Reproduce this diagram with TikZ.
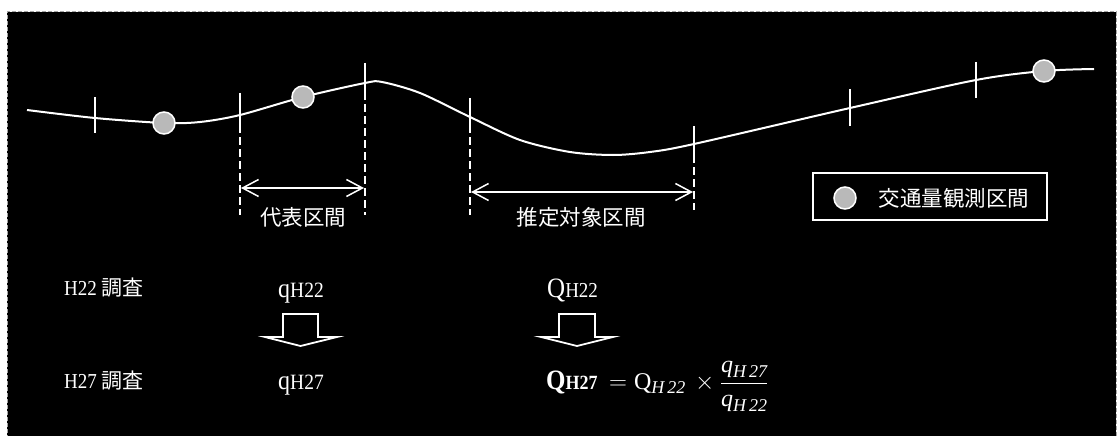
\documentclass[tikz,border=0pt]{standalone}
\usepackage{fontspec}
\setmainfont{Liberation Serif}
\newfontfamily\jp{Noto Sans CJK JP}
\usetikzlibrary{arrows.meta}
\newcommand{\mysub}[1]{\raisebox{-0.45ex}{\fontsize{18}{18}\selectfont\itshape #1}}
\newcommand{\tallx}[1]{\scalebox{1}[1.12]{#1}}
\begin{document}
\begin{tikzpicture}[x=1pt,y=-1pt,
  road/.style={white, line width=2pt},
  tickln/.style={white, line width=1.6pt},
  dashln/.style={white, line width=1.8pt, dash pattern=on 8pt off 4pt},
  obs/.style={circle, fill=gray!55, draw=white, line width=1.5pt, minimum size=22pt, inner sep=0pt},
  dim/.style={white, line width=1.5pt, {Straight Barb[length=16pt,width=17pt,line width=1.5pt]}-{Straight Barb[length=16pt,width=17pt,line width=1.5pt]}},
  blockarr/.style={white, line width=1.8pt, fill=black, line join=miter},
  jptxt/.style={text=white, font=\jp\fontsize{21.5}{21.5}\selectfont, inner sep=0pt},
  lat/.style={text=white, inner sep=0pt}
]
\useasboundingbox (0,0) rectangle (1117,436);
\fill[white] (0,0) rectangle (1117,436);
\fill[black] (7,12) rectangle (1116,445);
\draw[gray!70, line width=1pt, dash pattern=on 4pt off 2pt] (7,445) -- (7,12) -- (1116,12) -- (1116,445);

% road curve
\draw[road] plot[smooth, tension=0.5] coordinates {(27,110) (95,118) (164,123) (200,122) (240,115) (303,97) (365,83) (382,82) (420,93) (470,117) (520,140) (570,152) (613,155) (650,152) (694,144) (850,108) (976,80) (1044,71) (1094,69)};

% ticks
\draw[tickln] (95,97) -- (95,133);
\draw[tickln] (240,93) -- (240,133);
\draw[tickln] (365,63) -- (365,100);
\draw[tickln] (470,98) -- (470,133);
\draw[tickln] (694,126) -- (694,163);
\draw[tickln] (850,89) -- (850,126);
\draw[tickln] (976,62) -- (976,98);

% dashed extensions
\draw[dashln] (240,137) -- (240,215);
\draw[dashln] (365,104) -- (365,215);
\draw[dashln] (470,137) -- (470,215);
\draw[dashln] (694,167) -- (694,210);

% observation points
\node[obs] (c1) at (164,123) {};
\node[obs] (c2) at (303,97) {};
\node[obs] (c3) at (1044,71) {};

% dimension arrows
\coordinate (a1) at (241,188);
\coordinate (a2) at (364,188);
\coordinate (b1) at (471,192);
\coordinate (b2) at (693,192);
\draw[dim] (a1) -- (a2);
\draw[dim] (b1) -- (b2);
\node[jptxt] (t1) at (303,217) {代表区間};
\node[jptxt] (t2) at (581,217) {推定対象区間};

% legend
\node[draw=white, line width=1.2pt, minimum width=234pt, minimum height=47pt, inner sep=0pt] (leg) at (930,196.5) {};
\node[obs] (lc) at (845,198) {};
\node[jptxt] (lt) at (954,198) {交通量観測区間};

% rows
\node[lat, anchor=base west] (r1) at (64,295) {\fontsize{19}{19}\selectfont\tallx{H22} {\jp\fontsize{21}{21}\selectfont 調査}};
\node[lat, anchor=base west] (r2) at (64,388) {\fontsize{19}{19}\selectfont\tallx{H27} {\jp\fontsize{21}{21}\selectfont 調査}};

\node[lat, anchor=base west] (q1) at (278,297) {\tallx{\fontsize{24}{24}\selectfont q\fontsize{19.5}{19.5}\selectfont H22}};
\node[lat, anchor=base west] (q2) at (278,389) {\tallx{\fontsize{24}{24}\selectfont q\fontsize{19.5}{19.5}\selectfont H27}};
\node[lat, anchor=base west] (Q1) at (547,297) {\tallx{\fontsize{25}{25}\selectfont Q\fontsize{19}{19}\selectfont H22}};
\node[lat, anchor=base west] (Q2) at (546,389) {\tallx{\bfseries\fontsize{25}{25}\selectfont Q\fontsize{18}{18}\selectfont H27}};

% formula
\node[lat, anchor=base west] (frm) at (609,389) {\fontsize{24}{24}\selectfont
  $=\mbox{Q\mysub{H\,22}}\,\times\displaystyle\frac{\mbox{\textit{q}\mysub{H\,27}}}{\mbox{\textit{q}\mysub{H\,22}}}$};

% block arrows
\draw[blockarr] (283,314) -- (318,314) -- (318,337) -- (337,337) -- (300.5,346) -- (265,337) -- (283,337) -- cycle;
\draw[blockarr] (559,314) -- (595,314) -- (595,337) -- (613,337) -- (577,346) -- (541,337) -- (559,337) -- cycle;
\end{tikzpicture}
\end{document}
